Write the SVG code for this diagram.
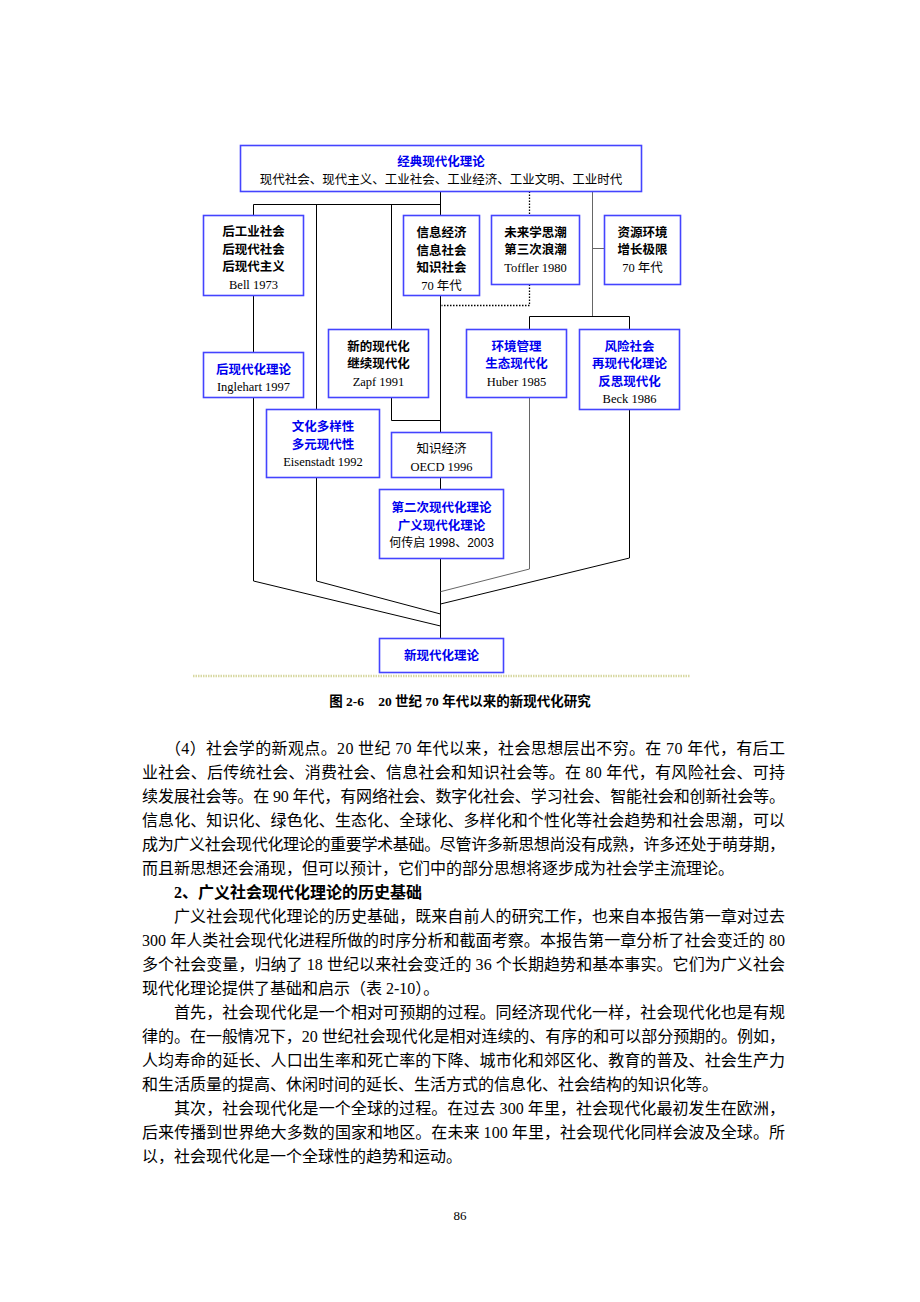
<svg xmlns="http://www.w3.org/2000/svg" width="920" height="1302" viewBox="0 0 920 1302">
<style>
.box{fill:#fff;stroke:#4444ff;stroke-width:1.6}
.t{font-family:"Liberation Serif","Noto Sans CJK SC",sans-serif;font-size:12.5px;text-anchor:middle;fill:#000}
.b{font-weight:bold}
.bl{fill:#0000ee;font-weight:bold}
.ln{fill:none;stroke:#000;stroke-width:1}
.gr{fill:none;stroke:#666;stroke-width:1}
.dt{fill:none;stroke:#000;stroke-width:1.3;stroke-dasharray:1.5 1.5}
.p{font-family:"Liberation Serif","Noto Sans CJK SC",serif;font-size:16px;fill:#000}
</style>
<rect width="920" height="1302" fill="#fff"/>

<g id="connectors">
  <!-- trunk -->
  <path class="ln" d="M440.5 191.5V215.5M440.5 295.5V432.5M440.5 477.5V489.5M440.5 558.5V638.5"/>
  <path class="ln" d="M253.5 204.5H440.5"/>
  <path class="ln" d="M253.5 204.5V215.5M253.5 295.5V352.5"/>
  <path class="ln" d="M253.5 397.5V581L440.5 626"/>
  <path class="ln" d="M316.5 204.5V409.5M316.5 477.5V581L440.5 614"/>
  <path class="ln" d="M391.5 204.5V329.5M391.5 397.5V420.5H440.5"/>
  <!-- dotted -->
  <path class="dt" d="M529.5 191.5V215.5M529.5 284.5V305.5H441.5"/>
  <!-- right branch -->
  <path class="gr" d="M592.5 191.5V316.5M592.5 248.5H604.5"/>
  <path class="ln" d="M529.5 316.5H629.5M529.5 316.5V329.5M629.5 316.5V329.5"/>
  <path class="gr" d="M529.5 397.5V569L440.5 591.7"/>
  <path class="ln" d="M629.5 409.5V558L440.5 604"/>
</g>

<g id="n-classic">
  <rect class="box" x="240.5" y="145.5" width="401" height="46"/>
  <text class="t bl" x="441" y="166">经典现代化理论</text>
  <text class="t" x="441" y="183.5">现代社会、现代主义、工业社会、工业经济、工业文明、工业时代</text>
</g>

<g id="n-bell">
  <rect class="box" x="203.5" y="215.5" width="100" height="80"/>
  <text class="t b" x="253.5" y="236">后工业社会</text>
  <text class="t b" x="253.5" y="253.5">后现代社会</text>
  <text class="t b" x="253.5" y="271">后现代主义</text>
  <text class="t" x="253.5" y="288.5">Bell 1973</text>
</g>

<g id="n-info">
  <rect class="box" x="403.5" y="215.5" width="76" height="80"/>
  <text class="t b" x="441.5" y="237">信息经济</text>
  <text class="t b" x="441.5" y="254.5">信息社会</text>
  <text class="t b" x="441.5" y="272">知识社会</text>
  <text class="t" x="441.5" y="289.5">70 年代</text>
</g>

<g id="n-toffler">
  <rect class="box" x="491.5" y="215.5" width="88" height="69"/>
  <text class="t b" x="535.5" y="236.5">未来学思潮</text>
  <text class="t b" x="535.5" y="254">第三次浪潮</text>
  <text class="t" x="535.5" y="271.5">Toffler 1980</text>
</g>

<g id="n-resource">
  <rect class="box" x="604.5" y="215.5" width="76" height="69"/>
  <text class="t b" x="642.5" y="236.5">资源环境</text>
  <text class="t b" x="642.5" y="254">增长极限</text>
  <text class="t" x="642.5" y="271.5">70 年代</text>
</g>

<g id="n-postmod">
  <rect class="box" x="203.5" y="352.5" width="100" height="45"/>
  <text class="t bl" x="253.5" y="373.5">后现代化理论</text>
  <text class="t" x="253.5" y="391">Inglehart 1997</text>
</g>

<g id="n-zapf">
  <rect class="box" x="328.5" y="329.5" width="100" height="68"/>
  <text class="t b" x="378.5" y="350.5">新的现代化</text>
  <text class="t b" x="378.5" y="368">继续现代化</text>
  <text class="t" x="378.5" y="385.5">Zapf 1991</text>
</g>

<g id="n-huber">
  <rect class="box" x="466.5" y="329.5" width="100" height="68"/>
  <text class="t bl" x="516.5" y="350.5">环境管理</text>
  <text class="t bl" x="516.5" y="368">生态现代化</text>
  <text class="t" x="516.5" y="385.5">Huber 1985</text>
</g>

<g id="n-beck">
  <rect class="box" x="579.5" y="329.5" width="100" height="80"/>
  <text class="t bl" x="629.5" y="350.5">风险社会</text>
  <text class="t bl" x="629.5" y="368">再现代化理论</text>
  <text class="t bl" x="629.5" y="385.5">反思现代化</text>
  <text class="t" x="629.5" y="403">Beck 1986</text>
</g>

<g id="n-eisenstadt">
  <rect class="box" x="266.5" y="409.5" width="113" height="68"/>
  <text class="t bl" x="323" y="431">文化多样性</text>
  <text class="t bl" x="323" y="448.5">多元现代性</text>
  <text class="t" x="323" y="466">Eisenstadt 1992</text>
</g>

<g id="n-oecd">
  <rect class="box" x="391.5" y="432.5" width="100" height="45"/>
  <text class="t" x="441.5" y="452.5">知识经济</text>
  <text class="t" x="441.5" y="470.5">OECD 1996</text>
</g>

<g id="n-second">
  <rect class="box" x="379.5" y="489.5" width="124" height="69"/>
  <text class="t bl" x="441.5" y="511.5">第二次现代化理论</text>
  <text class="t bl" x="441.5" y="529.5">广义现代化理论</text>
  <text class="t" x="441.5" y="546.5" style="font-family:'Liberation Sans','Noto Sans CJK SC',sans-serif;font-size:12px">何传启 1998、2003</text>
</g>

<g id="n-new">
  <rect class="box" x="379.5" y="638.5" width="124" height="34"/>
  <text class="t bl" x="441.5" y="660">新现代化理论</text>
</g>

<line x1="193" y1="676" x2="690" y2="676" stroke="#d8d8a2" stroke-width="2.5" stroke-dasharray="1.5 1"/>

<text x="460" y="706" text-anchor="middle" style="font-family:'Liberation Serif','Noto Sans CJK SC',serif;font-size:13.5px;font-weight:bold">图 2-6<tspan dx="14">20 世纪 70 年代以来的新现代化研究</tspan></text>

<g id="body">
<text class="p" x="165" y="753.5" textLength="620" lengthAdjust="spacing">（4）社会学的新观点。20 世纪 70 年代以来，社会思想层出不穷。在 70 年代，有后工</text>
<text class="p" x="142" y="777.5" textLength="643" lengthAdjust="spacing">业社会、后传统社会、消费社会、信息社会和知识社会等。在 80 年代，有风险社会、可持</text>
<text class="p" x="142" y="801.5" textLength="643" lengthAdjust="spacing">续发展社会等。在 90 年代，有网络社会、数字化社会、学习社会、智能社会和创新社会等。</text>
<text class="p" x="142" y="825.5" textLength="643" lengthAdjust="spacing">信息化、知识化、绿色化、生态化、全球化、多样化和个性化等社会趋势和社会思潮，可以</text>
<text class="p" x="142" y="849.5" textLength="643" lengthAdjust="spacing">成为广义社会现代化理论的重要学术基础。尽管许多新思想尚没有成熟，许多还处于萌芽期，</text>
<text class="p" x="142" y="873.5">而且新思想还会涌现，但可以预计，它们中的部分思想将逐步成为社会学主流理论。</text>
<text class="p" x="174" y="897.5" font-weight="bold">2、广义社会现代化理论的历史基础</text>
<text class="p" x="174" y="921.5" textLength="611" lengthAdjust="spacing">广义社会现代化理论的历史基础，既来自前人的研究工作，也来自本报告第一章对过去</text>
<text class="p" x="142" y="945.5" textLength="643" lengthAdjust="spacing">300 年人类社会现代化进程所做的时序分析和截面考察。本报告第一章分析了社会变迁的 80</text>
<text class="p" x="142" y="969.5" textLength="643" lengthAdjust="spacing">多个社会变量，归纳了 18 世纪以来社会变迁的 36 个长期趋势和基本事实。它们为广义社会</text>
<text class="p" x="142" y="993.5">现代化理论提供了基础和启示（表 2-10）。</text>
<text class="p" x="174" y="1017.5" textLength="611" lengthAdjust="spacing">首先，社会现代化是一个相对可预期的过程。同经济现代化一样，社会现代化也是有规</text>
<text class="p" x="142" y="1041.5" textLength="643" lengthAdjust="spacing">律的。在一般情况下，20 世纪社会现代化是相对连续的、有序的和可以部分预期的。例如，</text>
<text class="p" x="142" y="1065.5" textLength="643" lengthAdjust="spacing">人均寿命的延长、人口出生率和死亡率的下降、城市化和郊区化、教育的普及、社会生产力</text>
<text class="p" x="142" y="1089.5">和生活质量的提高、休闲时间的延长、生活方式的信息化、社会结构的知识化等。</text>
<text class="p" x="174" y="1113.5" textLength="611" lengthAdjust="spacing">其次，社会现代化是一个全球的过程。在过去 300 年里，社会现代化最初发生在欧洲，</text>
<text class="p" x="142" y="1137.5" textLength="643" lengthAdjust="spacing">后来传播到世界绝大多数的国家和地区。在未来 100 年里，社会现代化同样会波及全球。所</text>
<text class="p" x="142" y="1161.5">以，社会现代化是一个全球性的趋势和运动。</text>
<text class="p" x="460" y="1220" text-anchor="middle" style="font-size:13px">86</text>
</g>
</svg>
